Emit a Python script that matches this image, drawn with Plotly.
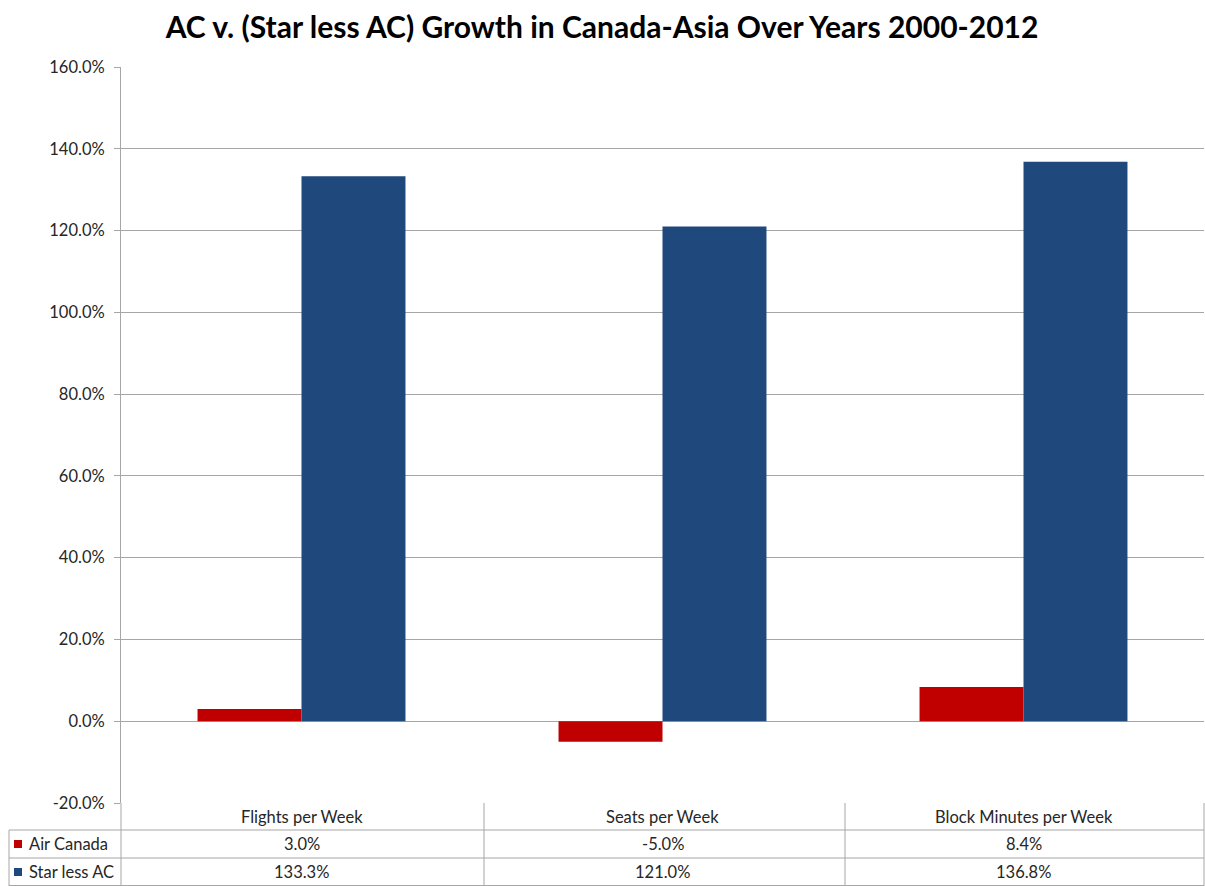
import plotly.graph_objects as go

categories = ["Flights per Week", "Seats per Week", "Block Minutes per Week"]
air_canada = [3.0, -5.0, 8.4]
star_less_ac = [133.3, 121.0, 136.8]
series_names = ["Air Canada", "Star less AC"]
colors = ["#C00000", "#1F497D"]
tick_vals = [-20, 0, 20, 40, 60, 80, 100, 120, 140, 160]

W, H = 1205, 886
ML, MR, MT, MB = 121, 1, 67, 83
PW = W - ML - MR
PH = H - MT - MB

def px_x(p):
    return (p - ML) / PW

def px_y(p):
    return (H - MB - p) / PH

fig = go.Figure()
xs = list(range(len(categories)))
for name, vals, col in zip(series_names, [air_canada, star_less_ac], colors):
    fig.add_trace(go.Bar(x=xs, y=vals, name=name, marker_color=col,
                         marker_line_width=0, showlegend=False))

grid = "#A6A6A6"
FS = 16.5
fig.update_layout(
    width=W, height=H,
    margin=dict(l=ML, r=MR, t=MT, b=MB, pad=0),
    paper_bgcolor="white", plot_bgcolor="white",
    barmode="group", bargap=0.424, bargroupgap=0,
    font=dict(family="Lato, Noto Sans, sans-serif", size=FS, color="#262626"),
    title=dict(text="<b>AC v. (Star less AC) Growth in Canada-Asia Over Years 2000-2012</b>",
               x=602 / W, xref="container", xanchor="center", y=1 - 27 / H, yref="container",
               yanchor="middle",
               font=dict(size=30, color="#000000", family="Lato, Noto Sans, sans-serif")),
    xaxis=dict(range=[-0.5, 2.5], showticklabels=False, showgrid=False, zeroline=False,
               showline=False, ticks=""),
    yaxis=dict(range=[-20, 160], tickvals=tick_vals,
               ticktext=[f"{v:.1f}%" for v in tick_vals],
               showgrid=True, gridcolor=grid, gridwidth=1, zeroline=True,
               zerolinecolor=grid, zerolinewidth=1,
               showline=True, linecolor=grid, linewidth=1,
               ticks="outside", ticklen=6, tickcolor=grid, ticklabelstandoff=6,
               tickfont=dict(size=FS, color="#262626")),
)

shapes = []
line = dict(color=grid, width=1)
for yp, x0 in [(830, 9), (858, 9), (885.5, 9)]:
    shapes.append(dict(type="line", xref="paper", yref="paper",
                       x0=px_x(x0), x1=px_x(1204), y0=px_y(yp), y1=px_y(yp), line=line))
for xp in [484, 845, 1204]:
    shapes.append(dict(type="line", xref="paper", yref="paper",
                       x0=px_x(xp), x1=px_x(xp), y0=px_y(803), y1=px_y(886), line=line))
shapes.append(dict(type="line", xref="paper", yref="paper",
                   x0=px_x(121), x1=px_x(121), y0=px_y(803), y1=px_y(886), line=line))
shapes.append(dict(type="line", xref="paper", yref="paper",
                   x0=px_x(9), x1=px_x(9), y0=px_y(830), y1=px_y(886), line=line))
for i, col in enumerate(colors):
    yc = 844 + i * 28
    shapes.append(dict(type="rect", xref="paper", yref="paper",
                       x0=px_x(14), x1=px_x(22), y0=px_y(yc - 4), y1=px_y(yc + 4),
                       fillcolor=col, line=dict(width=0)))

annotations = []
for i, c in enumerate(categories):
    annotations.append(dict(x=i, xref="x", y=px_y(817), yref="paper", text=c,
                            showarrow=False, xanchor="center", yanchor="middle",
                            font=dict(size=FS, color="#262626")))
for r, vals in enumerate([air_canada, star_less_ac]):
    yc = 844 + r * 28
    for i, v in enumerate(vals):
        annotations.append(dict(x=i, xref="x", y=px_y(yc), yref="paper", text=f"{v:.1f}%",
                                showarrow=False, xanchor="center", yanchor="middle",
                                font=dict(size=FS, color="#262626")))
    annotations.append(dict(x=px_x(27), xref="paper", y=px_y(yc), yref="paper",
                            text=series_names[r], showarrow=False, xanchor="left",
                            yanchor="middle", font=dict(size=FS, color="#262626")))

fig.update_layout(shapes=shapes, annotations=annotations)
fig.write_html("out.html")
